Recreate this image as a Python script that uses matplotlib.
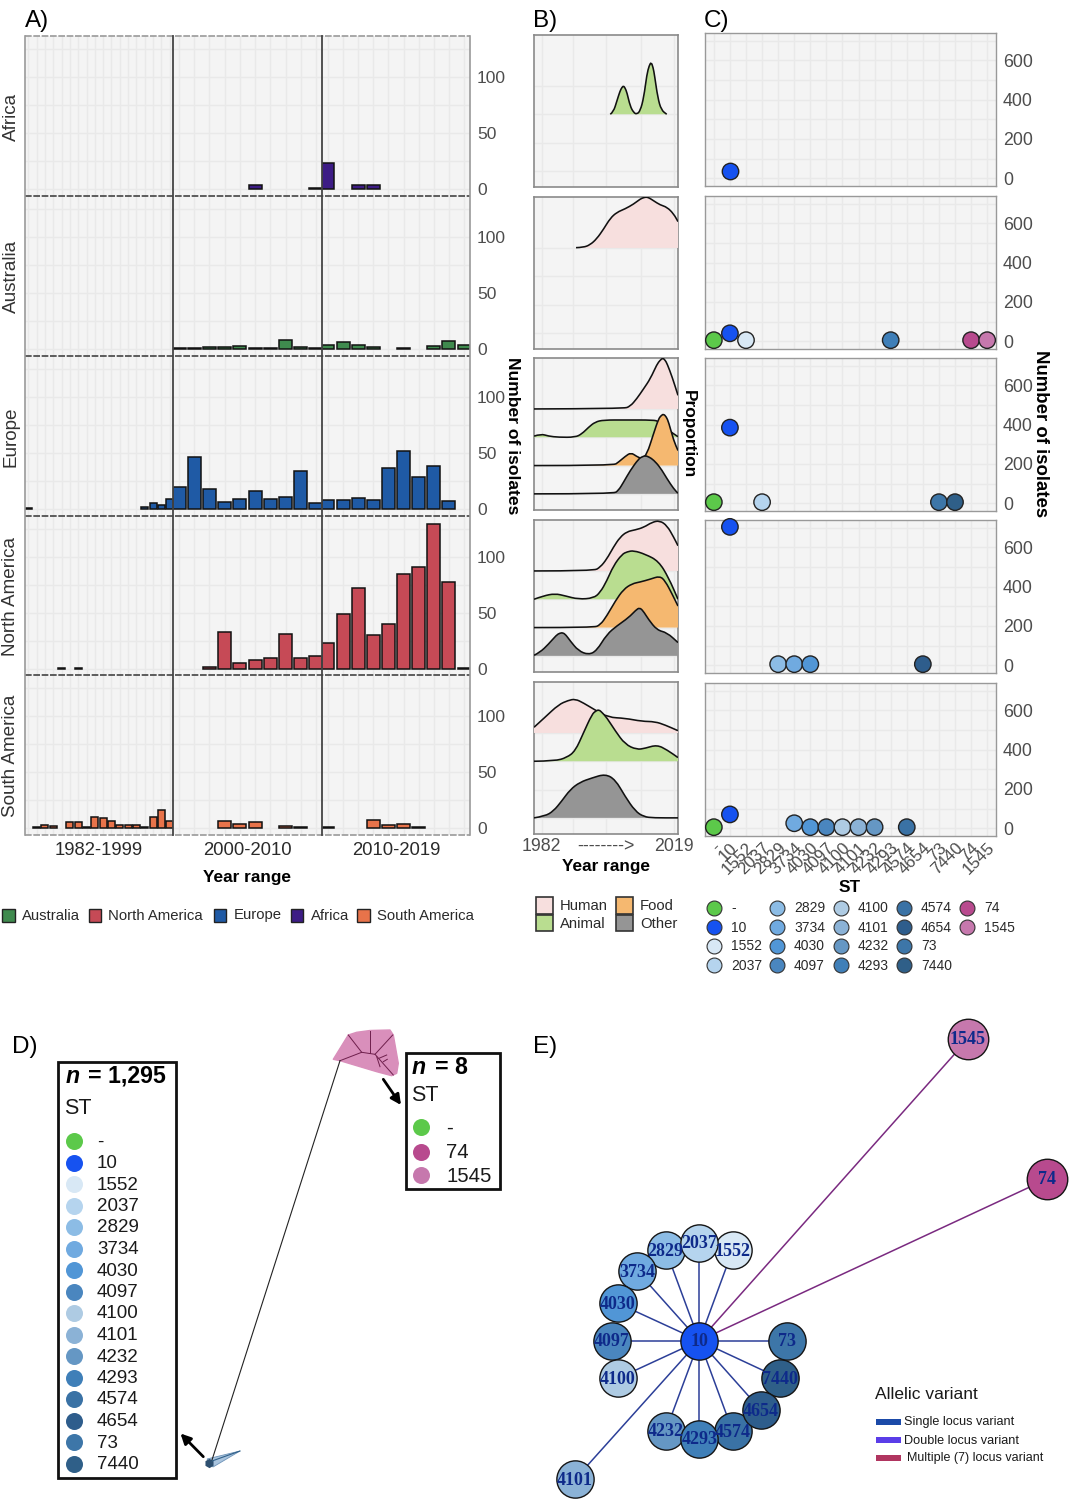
import matplotlib
matplotlib.use("Agg")
import matplotlib.pyplot as plt
from matplotlib.patches import Polygon, Rectangle, PathPatch
from matplotlib.path import Path

plt.rcParams['font.family'] = ['Liberation Sans', 'DejaVu Sans']

W, H = 1069, 1500

# panel A data
years = list(range(1982, 2020))
africa_counts = [0] * 18 + [0, 0, 0, 0, 0, 4, 0, 0, 0, 1] + [23, 0, 4, 4, 0, 0, 0, 0, 0, 0]
australia_counts = [0] * 18 + [1, 1, 2, 2, 3, 1, 1, 8, 2, 1] + [4, 6, 4, 2, 0, 1, 0, 3, 7, 4]
europe_counts = [1] + [0] * 13 + [2, 5, 4, 9] + [20, 46, 18, 6, 9, 16, 9, 11, 34, 5] + [8, 8, 10, 8, 37, 52, 29, 38, 7, 0]
namerica_counts = [0, 0, 0, 0, 1, 0, 1] + [0] * 11 + [0, 0, 2, 33, 5, 8, 10, 31, 10, 12] + [23, 49, 72, 30, 40, 85, 91, 129, 78, 1]
samerica_counts = [0, 1, 3, 2, 0, 5, 5, 1, 10, 9, 6, 3, 3, 3, 1, 10, 16, 6] + [0, 0, 0, 6, 4, 5, 0, 2, 1, 0] + [1, 0, 0, 7, 3, 4, 1, 0, 0, 0]

regions = ['Africa', 'Australia', 'Europe', 'North America', 'South America']
region_counts = [africa_counts, australia_counts, europe_counts, namerica_counts, samerica_counts]
region_colors = ['#3d1c85', '#3f8a4e', '#1f5aa5', '#c64a56', '#e8734a']
period_labels = ['1982-1999', '2000-2010', '2010-2019']
period_ranges = [(1982, 1999), (2000, 2009), (2010, 2019)]
legend_regions = ['Australia', 'North America', 'Europe', 'Africa', 'South America']
legend_region_colors = ['#3f8a4e', '#c64a56', '#1f5aa5', '#3d1c85', '#e8734a']

# panel B data: year and ridge height
africa_animal_x = [2001.6, 2002.4, 2003.3, 2004.1, 2004.6, 2005, 2005.4, 2005.9, 2006.7, 2007.6, 2008.4, 2009.3, 2010.2, 2011, 2011.6, 2012.1, 2012.6, 2013, 2013.8, 2014.7, 2016.1]
africa_animal_y = [0, .08, .47, .82, .95, 1.0, .93, .76, .29, .06, 0, .12, .59, 1.41, 1.72, 1.84, 1.66, 1.35, .59, .15, 0]
australia_human_x = [1992.8, 1994.7, 1996.4, 1998.1, 1999.9, 2001.6, 2003.3, 2005.4, 2007.6, 2009.3, 2010.2, 2011, 2011.8, 2012.7, 2014.4, 2016.2, 2017.9, 2019]
australia_human_y = [.01, .02, .11, .32, .67, 1.05, 1.26, 1.38, 1.55, 1.73, 1.78, 1.8, 1.75, 1.67, 1.52, 1.44, 1.2, .93]

europe_human_x = [1982, 2005, 2006.7, 2008.4, 2010.2, 2011.9, 2013.6, 2014.4, 2015.1, 2015.7, 2016.2, 2017.5, 2019]
europe_human_y = [0, .01, .09, .36, .72, 1.07, 1.58, 1.72, 1.8, 1.72, 1.6, 1.13, .48]
europe_animal_x = [1982, 1983.8, 1985.7, 1988.3, 1992.6, 1994.3, 1996, 1997.7, 1999.9, 2005.4, 2012.7, 2014, 2016.6, 2019]
europe_animal_y = [.04, .12, .04, 0, 0, .12, .35, .54, .61, .61, .61, .56, .24, .02]
europe_food_x = [1982, 2002.4, 2003.7, 2005.4, 2006.9, 2008.4, 2009.7, 2011, 2012.7, 2014, 2014.7, 2015.3, 2016, 2016.6, 2017.9, 2019]
europe_food_y = [0, 0, .12, .32, .46, .32, .24, .39, 1.12, 1.65, 1.77, 1.82, 1.72, 1.53, .88, .53]
europe_other_x = [1982, 2002.4, 2003.7, 2005, 2006.7, 2008.9, 2009.8, 2010.6, 2011.6, 2012.7, 2014.4, 2016.2, 2017.9, 2019]
europe_other_y = [0, 0, .12, .41, .82, 1.24, 1.31, 1.35, 1.3, 1.2, .94, .53, .18, .02]

namerica_human_x = [1982, 1997.3, 1999, 2000.7, 2002.4, 2004.1, 2005.9, 2008, 2010.2, 2012.3, 2014.3, 2016.2, 2017.9, 2019]
namerica_human_y = [0, 0, .13, .42, .84, 1.19, 1.39, 1.45, 1.54, 1.72, 1.78, 1.6, 1.19, .89]
namerica_animal_x = [1982, 1984.4, 1987.4, 1990, 1993.4, 1997.3, 1999, 2000.7, 2002.4, 2004.6, 2006, 2007.6, 2010.6, 2014, 2016.6, 2019]
namerica_animal_y = [0, .12, .2, .12, 0, .04, .24, .65, 1.18, 1.59, 1.68, 1.72, 1.59, 1.35, .76, 0]
namerica_food_x = [1982, 1997.3, 1999, 2000.7, 2002.9, 2005, 2007.2, 2009.3, 2011.9, 2014.3, 2015.7, 2017.5, 2019]
namerica_food_y = [0, 0, .09, .41, .94, 1.35, 1.55, 1.61, 1.71, 1.82, 1.65, 1.18, .76]
namerica_other_x = [1982, 1983.5, 1985.7, 1987.8, 1988.6, 1989.4, 1990.2, 1991.3, 1993.4, 1996, 1998.1, 2000.7, 2003.3, 2006.3, 2008.2, 2009.1, 2010, 2011.4, 2013.6, 2016.2, 2019]
namerica_other_y = [.02, .12, .41, .74, .8, .82, .74, .53, .18, .04, .18, .76, 1.06, 1.35, 1.62, 1.7, 1.6, 1.29, .91, .82, .47]

samerica_human_x = [1982, 1984.8, 1988.3, 1990.8, 1992.6, 1994.7, 1997.7, 2001.1, 2005.4, 2009.7, 2013.1, 2015.7, 2019]
samerica_human_y = [.2, .55, 1, 1.15, 1.2, 1.06, .81, .55, .52, .41, .4, .28, .08]
samerica_animal_x = [1982, 1987.4, 1990.4, 1992.6, 1994.7, 1996.9, 1997.9, 1998.7, 1999.5, 2000.7, 2002.9, 2005.4, 2008.4, 2010.6, 2013.6, 2016.2, 2019]
samerica_animal_y = [0, .01, .13, .36, 1, 1.66, 1.78, 1.82, 1.72, 1.54, 1.07, .6, .41, .46, .58, .4, .13]
samerica_other_x = [1982, 1984.8, 1987, 1989.1, 1991.3, 1993.8, 1996.9, 2000.3, 2002.9, 2005.4, 2008, 2010.2, 2012.7, 2019]
samerica_other_y = [0, .06, .24, .59, 1, 1.26, 1.41, 1.55, 1.35, .76, .24, .04, 0, 0]

sources = ['Human', 'Animal', 'Food', 'Other']
source_levels = [4, 3, 2, 1]
source_colors = ['#f7dfde', '#b9dd90', '#f5b870', '#959595']
ridges = [
    [('Animal', africa_animal_x, africa_animal_y)],
    [('Human', australia_human_x, australia_human_y)],
    [('Human', europe_human_x, europe_human_y), ('Animal', europe_animal_x, europe_animal_y),
     ('Food', europe_food_x, europe_food_y), ('Other', europe_other_x, europe_other_y)],
    [('Human', namerica_human_x, namerica_human_y), ('Animal', namerica_animal_x, namerica_animal_y),
     ('Food', namerica_food_x, namerica_food_y), ('Other', namerica_other_x, namerica_other_y)],
    [('Human', samerica_human_x, samerica_human_y), ('Animal', samerica_animal_x, samerica_animal_y),
     ('Other', samerica_other_x, samerica_other_y)],
]

# panel C data
st_names = ['-', '10', '1552', '2037', '2829', '3734', '4030', '4097', '4100', '4101', '4232', '4293', '4574', '4654', '73', '7440', '74', '1545']
st_colors = ['#5cc94a', '#1652f0', '#d8e8f5', '#b5d4ee', '#8cbce5', '#70aae0', '#5196d6', '#4a86bf', '#aecbe3', '#8bb2d6',
             '#6597c4', '#3f7fb8', '#3a72a5', '#2e5d8c', '#3d76a8', '#2f5f88', '#b84a8e', '#c678ad']
st_africa = [0, 35] + [0] * 16
st_australia = [5, 40, 5, 0, 0, 0, 0, 0, 0, 0, 0, 5, 0, 0, 0, 0, 5, 5]
st_europe = [5, 385, 0, 5, 0, 0, 0, 0, 0, 0, 0, 0, 0, 0, 5, 5, 0, 0]
st_namerica = [0, 705, 0, 0, 5, 5, 5, 0, 0, 0, 0, 0, 0, 5, 0, 0, 0, 0]
st_samerica = [5, 70, 0, 0, 0, 25, 5, 5, 5, 5, 5, 0, 5, 0, 0, 0, 0, 0]
st_by_region = [st_africa, st_australia, st_europe, st_namerica, st_samerica]

# panel D data
tree_st = ['-', '74', '1545']
tree_st_colors = ['#5cc94a', '#b84a8e', '#c678ad']
pink_outline_x = [333.3, 348.3, 356.7, 370, 390, 393.3, 398.3, 396.7, 391.7, 376.7, 340]
pink_outline_y = [1059.3, 1035, 1032.3, 1030.5, 1030, 1035, 1063.3, 1073.3, 1075.7, 1071.7, 1060.7]
pink_branches = [[(340, 1060.7), (361.7, 1052.3), (375, 1054.3), (393.3, 1075)],
                 [(361.7, 1052.3), (348.3, 1035)], [(370, 1053.3), (370, 1030.7)],
                 [(375, 1054.3), (392.7, 1035)], [(376.7, 1056.7), (380, 1066.7)],
                 [(379, 1058.3), (386.7, 1055)], [(383.3, 1061.7), (387.3, 1059.3)]]
blue_wedge_x = [207, 240, 213]
blue_wedge_y = [1459, 1451, 1467]

# panel E data
net_names = ['2829', '1552', '2037', '3734', '4030', '4097', '4100', '4101', '4232', '4574', '4293', '7440', '4654', '73', '74', '1545']
net_x = [665.7, 732.7, 699.3, 637.3, 618, 611.7, 618, 575, 665.7, 732.7, 699.3, 780, 761, 786.7, 1047, 968]
net_y = [1250, 1250, 1242.7, 1271.3, 1303.3, 1340.7, 1378.3, 1479.3, 1431, 1431.3, 1438.7, 1378.3, 1410, 1340.7, 1179, 1039]
net_edges = ['#2c3f98'] * 14 + ['#7a2a80'] * 2
hub_x, hub_y = 699.3, 1340.7
variant_labels = ['Single locus variant', 'Double locus variant', 'Multiple (7) locus variant']
variant_colors = ['#1b4aa8', '#5a3de8', '#b03560']


def panel(left, top, right, bottom):
    return fig.add_axes([left / W, 1 - bottom / H, (right - left) / W, (bottom - top) / H])


def ridge_path(xs, ys, base=None):
    # quadratic curve through the midpoints, read values are the control points
    verts = [(xs[0], ys[0])]
    codes = [Path.MOVETO]
    for i in range(1, len(xs) - 1):
        verts += [(xs[i], ys[i]), ((xs[i] + xs[i + 1]) / 2, (ys[i] + ys[i + 1]) / 2)]
        codes += [Path.CURVE3, Path.CURVE3]
    verts += [(xs[-1], ys[-1])]
    codes += [Path.LINETO]
    if base is not None:
        verts += [(xs[-1], base), (xs[0], base), (xs[0], ys[0])]
        codes += [Path.LINETO, Path.LINETO, Path.CLOSEPOLY]
    return Path(verts, codes)


fig = plt.figure(figsize=(W / 100, H / 100), dpi=100, facecolor='white')
BG = '#f4f4f4'
GRID = '#e9e9e9'
TICK = '#4d4d4d'

# A) bars by period and region
row_tops = [36, 196, 356, 516, 675]
col_edges = [25, 173, 322, 470]
for r, name in enumerate(regions):
    top = row_tops[r]
    bottom = top + 160
    for c, (y0, y1) in enumerate(period_ranges):
        ax = panel(col_edges[c], top, col_edges[c + 1], bottom)
        ax.set_facecolor(BG)
        ax.set_xlim(y0 - 0.4, y1 + 0.4)
        ax.set_ylim(-6.2, 136.5)
        ax.set_xticks(range(y0, y1 + 1))
        ax.set_yticks([0, 25, 50, 75, 100, 125])
        ax.grid(True, color=GRID, lw=1)
        ax.set_axisbelow(True)
        ax.tick_params(length=0, labelbottom=False, labelleft=False)
        for s in ax.spines.values():
            s.set_visible(False)
        xs = [y for y, v in zip(years, region_counts[r]) if v > 0 and y0 <= y <= y1]
        vs = [v for y, v in zip(years, region_counts[r]) if v > 0 and y0 <= y <= y1]
        ax.bar(xs, vs, width=0.85, color=region_colors[r], edgecolor='#111111', lw=1.1)
        if c == 2:
            ax.yaxis.tick_right()
            ax.set_yticks([0, 50, 100])
            ax.set_yticks([25, 75, 125], minor=True)
            ax.tick_params(axis='y', which='both', length=0, labelright=True, labelsize=12.6, labelcolor=TICK, pad=5)
            ax.grid(True, which='minor', axis='y', color=GRID, lw=1)

# B) ridges
b_tops = [35, 197, 358, 520, 682]
for r, curves in enumerate(ridges):
    ax = panel(534, b_tops[r], 678, b_tops[r] + 152)
    ax.set_facecolor(BG)
    ax.set_xlim(1982, 2019)
    ax.set_ylim(0.43, 5.8)
    ax.set_xticks([1984, 1992, 2000.5, 2009.5, 2018])
    ax.set_yticks([1, 2, 3, 4])
    ax.grid(True, color=GRID, lw=1)
    ax.set_axisbelow(True)
    ax.tick_params(length=0, labelbottom=False, labelleft=False)
    for s in ax.spines.values():
        s.set_color('#8a8a8a')
        s.set_linewidth(1.2)
    for z, (src, cx, cy) in enumerate(curves):
        i = sources.index(src)
        base = source_levels[i]
        tops = [base + v for v in cy]
        ax.add_patch(PathPatch(ridge_path(cx, tops, base), fc=source_colors[i], ec='none', zorder=3 + z))
        ax.add_patch(PathPatch(ridge_path(cx, tops), fc='none', ec='#111111', lw=1.15, zorder=3 + z))

# C) points by ST
c_tops = [33, 196, 358, 520, 683]
for r, vals in enumerate(st_by_region):
    ax = panel(705, c_tops[r], 996, c_tops[r] + 153)
    ax.set_facecolor(BG)
    ax.set_xlim(-0.55, 17.55)
    ax.set_ylim(-40, 740)
    ax.set_xticks(range(18))
    ax.set_yticks([0, 200, 400, 600])
    ax.set_yticks([100, 300, 500, 700], minor=True)
    ax.grid(True, color=GRID, lw=1)
    ax.grid(True, which='minor', axis='y', color=GRID, lw=1)
    ax.set_axisbelow(True)
    ax.yaxis.tick_right()
    ax.tick_params(axis='both', which='both', length=0, labelsize=12.8, labelcolor=TICK, pad=5)
    ax.tick_params(axis='x', labelbottom=False)
    for s in ax.spines.values():
        s.set_color('#999999')
        s.set_linewidth(1)
    idx = [i for i, v in enumerate(vals) if v > 0]
    ax.scatter(idx, [vals[i] for i in idx], s=140, c=[st_colors[i] for i in idx],
               edgecolors='#222222', linewidths=1, clip_on=False, zorder=3)
    if r == 4:
        ax.tick_params(axis='x', labelbottom=True, pad=3, labelsize=12.2)
        ax.set_xticklabels(st_names, rotation=45, ha='right', va='top', rotation_mode='anchor')

# page overlay for borders, headings, legends, tree and network
ov = fig.add_axes([0, 0, 1, 1], zorder=10)
ov.set_xlim(0, W)
ov.set_ylim(H, 0)
ov.axis('off')
ov.patch.set_alpha(0)


def label(x, y, s, size=10.7, **kw):
    kw.setdefault('va', 'center')
    kw.setdefault('color', '#1a1a1a')
    ov.text(x, y + 1.5, s, fontsize=size, **kw)


# panel A frame
for y in [196, 356, 516, 675]:
    ov.plot([25, 470], [y, y], color='#444444', lw=1.2, ls=(0, (4, 1)))
for y in [36, 835]:
    ov.plot([25, 470], [y, y], color='#9a9a9a', lw=1.2, ls=(0, (4, 1)))
for x in [25, 470]:
    ov.plot([x, x], [36, 835], color='#9a9a9a', lw=1.2)
for x in [173, 322]:
    ov.plot([x, x], [36, 835], color='#444444', lw=1.3)

for r, name in enumerate(regions):
    label(11, row_tops[r] + 79, name, size=13.6, rotation=90, ha='center', color='#333333')
for c, s in enumerate(period_labels):
    label((col_edges[c] + col_edges[c + 1]) / 2, 849, s, size=13.3, ha='center', color='#2a2a2a')
label(247, 876, 'Year range', size=12.4, ha='center', fontweight='bold', color='black')
label(513, 434, 'Number of isolates', size=12.6, rotation=270, ha='center', fontweight='bold', color='black')
label(688, 433, 'Proportion', size=12.4, rotation=270, ha='center', fontweight='bold', color='black')
label(1041, 432, 'Number of isolates', size=13.4, rotation=270, ha='center', fontweight='bold', color='black')

for x, y, s in [(25, 19, 'A)'), (533, 19, 'B)'), (704, 19, 'C)'), (12, 1046, 'D)'), (533, 1046, 'E)')]:
    label(x, y, s, size=17.5, color='black')

# legend A
swatch_x = [2, 88.5, 213.5, 290.5, 357]
for x, s, col in zip(swatch_x, legend_regions, legend_region_colors):
    ov.add_patch(Rectangle((x, 909), 12.5, 13, fc=col, ec='#222222', lw=1))
    label(x + 20, 914, s, size=10.7, color='#2a2a2a')

# B axis text and legend
label(541, 845, '1982', size=12.8, ha='center', color=TICK)
label(606, 845, '-------->', size=12.8, ha='center', color=TICK)
label(674, 845, '2019', size=12.8, ha='center', color=TICK)
label(606, 864.5, 'Year range', size=12.4, ha='center', fontweight='bold', color='black')
src_box = [(536, 897), (536, 914.5), (616, 897), (616, 914.5)]
src_text = [(560, 904), (560, 922), (640, 904), (640, 922)]
for (bx, by), (tx, ty), s, col in zip(src_box, src_text, sources, source_colors):
    ov.add_patch(Rectangle((bx, by), 17, 16.5, fc=col, ec='#333333', lw=1.2))
    label(tx, ty, s, size=10.7, color='#2a2a2a')

# C legend
label(850, 885.5, 'ST', size=12.4, ha='center', fontweight='bold', color='black')
leg_cols = [714, 777, 841, 904, 967]
leg_rows = [908, 927, 946, 965]
for i, (s, col) in enumerate(zip(st_names, st_colors)):
    cx = leg_cols[i // 4]
    cy = leg_rows[i % 4]
    ov.scatter([cx], [cy], s=115, c=col, edgecolors='#333333', linewidths=0.8)
    label(cx + 17, cy - 1, s, size=10, color='#2a2a2a')

# D boxes and tree
ov.add_patch(Rectangle((58, 1062), 118, 416, fc='white', ec='#111111', lw=2))
label(66, 1075, 'n', size=16.7, fontweight='bold', style='italic', color='black')
label(88, 1075, '= 1,295', size=16.7, fontweight='bold', color='black')
label(64, 1107, 'ST', size=15.5, color='#1a1a1a')
for i, (s, col) in enumerate(zip(st_names[:16], st_colors[:16])):
    y = 1141 + i * 21.5
    ov.scatter([74], [y], s=150, c=col, linewidths=0)
    label(97, y - 0.5, s, size=13.5, color='#1a1a1a')

ov.add_patch(Rectangle((406, 1053), 94, 136, fc='white', ec='#111111', lw=2))
label(412, 1066, 'n', size=16.7, fontweight='bold', style='italic', color='black')
label(435, 1066, '= 8', size=16.7, fontweight='bold', color='black')
label(411, 1094, 'ST', size=15.5, color='#1a1a1a')
for y, s, col in zip([1127, 1152, 1175], tree_st, tree_st_colors):
    ov.scatter([421], [y], s=150, c=col, linewidths=0)
    label(446, y - 0.5, s, size=14.7, color='#1a1a1a')

ov.add_patch(Polygon(list(zip(pink_outline_x, pink_outline_y)), closed=True, fc='#d98fbb', ec='#d98fbb', lw=1, joinstyle='round'))
for branch in pink_branches:
    ov.plot([p[0] for p in branch], [p[1] for p in branch], color='#6e1f4c', lw=0.7)
ov.plot([340, 212], [1060.7, 1460], color='#222222', lw=0.8)
ov.add_patch(Polygon(list(zip(blue_wedge_x, blue_wedge_y)), closed=True, fc='#a9c4de', ec='#6d93b8', lw=0.6))
ov.plot([212, 240], [1461, 1451], color='#2f5f88', lw=0.8)
ov.scatter([208.5], [1462.5], s=45, marker='h', c='#2e5070', linewidths=0)
for start, end in [((383.3, 1079.3), (401, 1105)), ((203.3, 1456.7), (180.5, 1433.5))]:
    ov.annotate('', xy=end, xytext=start, arrowprops=dict(arrowstyle='-|>', color='black', lw=2, mutation_scale=15, shrinkA=0, shrinkB=0))

# E network
for x, y, col in zip(net_x, net_y, net_edges):
    ov.plot([hub_x, x], [hub_y, y], color=col, lw=1.1, zorder=2)
for x, y, s in zip(net_x, net_y, net_names):
    col = st_colors[st_names.index(s)]
    size = 850 if s in ['74', '1545'] else 720
    ov.scatter([x], [y], s=size, c=col, edgecolors='#151515', linewidths=1, zorder=3)
    ov.text(x, y + 1, s, fontsize=13, family='Liberation Serif', fontweight='bold', color='#0e2a8a', ha='center', va='center', zorder=4)
ov.scatter([hub_x], [hub_y], s=720, c=st_colors[1], edgecolors='#151515', linewidths=1, zorder=3)
ov.text(hub_x, hub_y + 1, '10', fontsize=13, family='Liberation Serif', fontweight='bold', color='#0e2a8a', ha='center', va='center', zorder=4)

label(875, 1393, 'Allelic variant', size=12.5)
for y, s, col, tx, fs in zip([1422, 1440, 1458], variant_labels, variant_colors, [904, 904, 907], [9.1, 9.1, 9]):
    ov.add_patch(Rectangle((875.5, y - 3), 25, 6, fc=col, lw=0))
    label(tx, y - 1, s, size=fs)

fig.savefig('out.png', dpi=100)
